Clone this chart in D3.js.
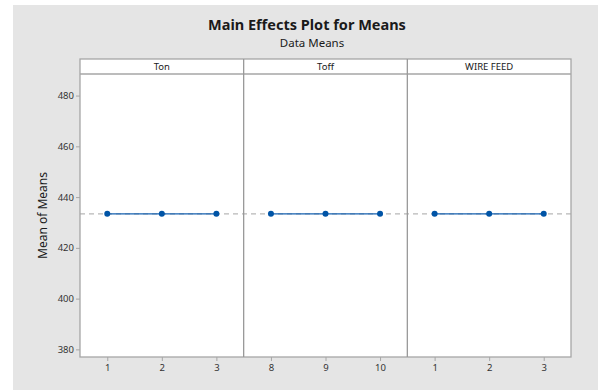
<!DOCTYPE html>
<html>
<head>
<meta charset="utf-8">
<script src="https://cdn.jsdelivr.net/npm/d3@7"></script>
<style>
  html, body { margin: 0; padding: 0; background: #ffffff; }
  svg { display: block; }
  text { font-family: "Noto Sans", "Open Sans", sans-serif; }
</style>
</head>
<body>
<svg id="chart" width="598" height="390"></svg>
<script>
// Factors, their levels and the mean response at each level
const factors = ["Ton", "Toff", "WIRE FEED"];
const tonLevels = ["1", "2", "3"];
const toffLevels = ["8", "9", "10"];
const wireLevels = ["1", "2", "3"];
const tonMeans = [433.4, 433.4, 433.4];
const toffMeans = [433.4, 433.4, 433.4];
const wireMeans = [433.4, 433.4, 433.4];
const grandMean = 433.4;
const yTicks = [380, 400, 420, 440, 460, 480];
const yDomain = [377, 488.5];

const panels = [
  { name: factors[0], levels: tonLevels, means: tonMeans },
  { name: factors[1], levels: toffLevels, means: toffMeans },
  { name: factors[2], levels: wireLevels, means: wireMeans }
];

const svg = d3.select("#chart");
const frame = { left: 80, right: 571, top: 59, strip: 74, bottom: 357 };
const lineGray = "#a6a6a6";
const blue = "#0054a6";

// Panel background
svg.append("rect").attr("x", 13).attr("y", 5).attr("width", 585).attr("height", 385)
  .attr("fill", "#e5e5e5");

// Titles
svg.append("text").attr("x", 307).attr("y", 30).attr("text-anchor", "middle")
  .attr("font-size", 14.5).attr("font-weight", "bold").attr("fill", "#1a1a1a")
  .text("Main Effects Plot for Means");
svg.append("text").attr("x", 312).attr("y", 47).attr("text-anchor", "middle")
  .attr("font-size", 11.5).attr("fill", "#1a1a1a")
  .text("Data Means");

// Scales
const y = d3.scaleLinear().domain(yDomain).range([frame.bottom, frame.strip]);
const panelScale = d3.scaleBand().domain(factors).range([frame.left, frame.right]).padding(0);

// Plot area
svg.append("rect").attr("x", frame.left).attr("y", frame.top)
  .attr("width", frame.right - frame.left).attr("height", frame.bottom - frame.top)
  .attr("fill", "#ffffff");

// Grand mean reference line
svg.append("line").attr("x1", frame.left).attr("x2", frame.right)
  .attr("y1", y(grandMean)).attr("y2", y(grandMean))
  .attr("stroke", "#b8b8b8").attr("stroke-width", 1.2).attr("stroke-dasharray", "5,4");

// Y axis
const yAxis = d3.axisLeft(y).tickValues(yTicks).tickSize(4).tickPadding(2);
const ya = svg.append("g").attr("transform", `translate(${frame.left},0)`).call(yAxis);
ya.select(".domain").remove();
ya.selectAll(".tick line").attr("stroke", lineGray);
ya.selectAll(".tick text").attr("font-size", 9.5).attr("fill", "#333333")
  .attr("font-family", "\"Noto Sans\", sans-serif");

svg.append("text")
  .attr("transform", `translate(47,${(frame.strip + frame.bottom) / 2}) rotate(-90)`)
  .attr("text-anchor", "middle").attr("font-size", 12).attr("fill", "#1a1a1a")
  .text("Mean of Means");

panels.forEach(p => {
  const x0 = panelScale(p.name);
  const w = panelScale.bandwidth();
  const x = d3.scalePoint().domain(p.levels).range([x0, x0 + w]).padding(0.5);

  // strip label
  svg.append("text").attr("x", x0 + w / 2).attr("y", frame.top + 11)
    .attr("text-anchor", "middle").attr("font-size", 9.5).attr("fill", "#1a1a1a")
    .text(p.name);

  // x axis
  const xAxis = d3.axisBottom(x).tickSize(4).tickPadding(3);
  const xa = svg.append("g").attr("transform", `translate(0,${frame.bottom})`).call(xAxis);
  xa.select(".domain").remove();
  xa.selectAll(".tick line").attr("stroke", lineGray);
  xa.selectAll(".tick text").attr("font-size", 9.5).attr("fill", "#333333")
    .attr("font-family", "\"Noto Sans\", sans-serif");

  // mean line and points
  const pts = p.levels.map((l, i) => [x(l), y(p.means[i])]);
  svg.append("path").attr("d", d3.line()(pts)).attr("fill", "none")
    .attr("stroke", "#1560b0").attr("stroke-width", 1.4);
  svg.selectAll(null).data(pts).enter().append("circle")
    .attr("cx", d => d[0]).attr("cy", d => d[1]).attr("r", 3)
    .attr("fill", blue);
});

// Frame, strip and panel dividers
svg.append("rect").attr("x", frame.left).attr("y", frame.top)
  .attr("width", frame.right - frame.left).attr("height", frame.bottom - frame.top)
  .attr("fill", "none").attr("stroke", lineGray).attr("stroke-width", 1.3);
svg.append("line").attr("x1", frame.left).attr("x2", frame.right)
  .attr("y1", frame.strip).attr("y2", frame.strip)
  .attr("stroke", lineGray).attr("stroke-width", 1.3);
factors.slice(1).forEach(f => {
  svg.append("line").attr("x1", panelScale(f)).attr("x2", panelScale(f))
    .attr("y1", frame.top).attr("y2", frame.bottom)
    .attr("stroke", "#999999").attr("stroke-width", 1.3);
});
</script>
</body>
</html>
